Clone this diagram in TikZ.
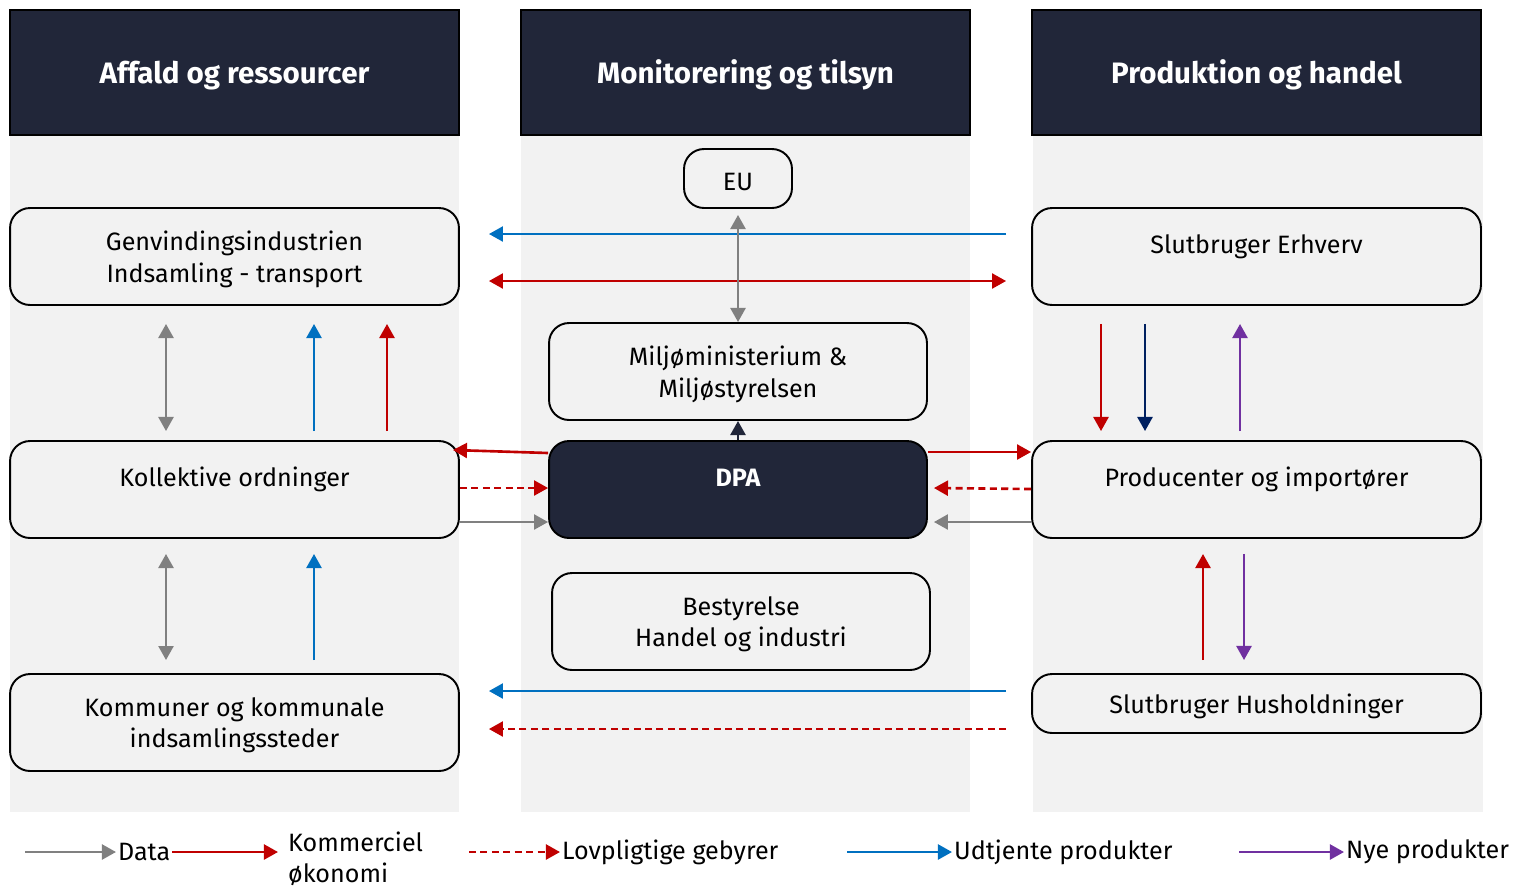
\documentclass[tikz,border=0pt]{standalone}
\usepackage{fontspec}
\setmainfont{Fira Sans}
\usetikzlibrary{arrows.meta, positioning, calc}

\definecolor{hdrblue}{HTML}{212639}
\definecolor{colbg}{HTML}{F2F2F2}
\definecolor{ecored}{HTML}{C00000}
\definecolor{wasteblue}{HTML}{0070C0}
\definecolor{datagrey}{HTML}{808080}
\definecolor{navyblue}{HTML}{002060}
\definecolor{newpurple}{HTML}{7030A0}

\begin{document}
\begin{tikzpicture}[x=0.02cm, y=-0.02cm,
	font=\fontsize{14.3}{18}\selectfont,
	header/.style={draw=black, line width=0.8pt, fill=hdrblue, text=white,
		font=\fontsize{16.8}{18}\selectfont\bfseries, text height=17pt, text depth=4pt,
		minimum width=8.98cm, minimum height=2.5cm},
	actor/.style={draw=black, line width=1.1pt, fill=colbg, rounded corners=0.4cm,
		align=center, minimum width=8.98cm, minimum height=1.94cm},
	oneline/.style={actor, text height=14pt},
	twoline/.style={actor, text depth=0pt},
	raised/.style={oneline, text depth=0.6cm},
	flow/.style={line width=1.5pt, -{Triangle[length=8pt,width=8.5pt]}},
	both/.style={line width=1.5pt, {Triangle[length=8pt,width=8.5pt]}-{Triangle[length=8pt,width=8.5pt]}},
	fee/.style={flow, dash pattern=on 4pt off 2.5pt},
	legtext/.style={anchor=west, inner sep=1pt, align=left}]
	\useasboundingbox (0,0) rectangle (1517,890);

	% column backgrounds and headers
	\fill[colbg] (10,135) rectangle (459,812);
	\fill[colbg] (521,135) rectangle (970,812);
	\fill[colbg] (1033,135) rectangle (1483,812);
	\node[header] (affald) at (234.5,72.5) {Affald og ressourcer};
	\node[header] (monitor) at (745.5,72.5) {Monitorering og tilsyn};
	\node[header] (produktion) at (1256.5,72.5) {Produktion og handel};

	% left column
	\node[twoline] (genvind) at (234.5,256.5) {Genvindingsindustrien\\Indsamling - transport};
	\node[raised] (koll) at (234.5,489.5) {Kollektive ordninger};
	\node[twoline] (kommuner) at (234.5,722.5) {Kommuner og kommunale\\indsamlingssteder};

	% middle column
	\node[oneline, minimum width=2.16cm, minimum height=1.18cm] (eu) at (738,178.5) {EU};
	\node[twoline, minimum width=7.56cm] (mst) at (738,371.5) {Milj\o ministerium \&\\Milj\o styrelsen};
	\node[raised, fill=hdrblue, text=white, font=\fontsize{14.3}{18}\selectfont\bfseries,
		minimum width=7.56cm] (dpa) at (738,489.5) {DPA};
	\node[twoline, minimum width=7.56cm] (bestyr) at (741,621.5) {Bestyrelse\\Handel og industri};

	% right column
	\node[raised] (erhverv) at (1256.5,256.5) {Slutbruger Erhverv};
	\node[raised] (producent) at (1256.5,489.5) {Producenter og import\o rer};
	\node[oneline, minimum height=1.18cm] (hushold) at (1256.5,703.5) {Slutbruger Husholdninger};

	% across the columns
	\draw[flow, wasteblue] ($(erhverv.west)+(-25,-22.5)$) -- ($(genvind.east)+(29,-22.5)$);
	\draw[both, ecored] ($(genvind.east)+(29,24.5)$) -- ($(erhverv.west)+(-25,24.5)$);
	\draw[both, datagrey] ($(eu.south)+(0,6)$) -- (mst.north);
	\draw[flow, wasteblue] ($(hushold.west)+(-25,-12.5)$) -- ($(kommuner.east)+(29,-31.5)$);
	\draw[fee, ecored] ($(hushold.west)+(-25,25.5)$) -- ($(kommuner.east)+(29,6.5)$);

	% left column links
	\draw[both, datagrey] ($(genvind.south)+(-68.5,18)$) -- ($(koll.north)+(-68.5,-9)$);
	\draw[flow, wasteblue] ($(koll.north)+(79.5,-9)$) -- ($(genvind.south)+(79.5,18)$);
	\draw[flow, ecored] ($(koll.north)+(152.5,-9)$) -- ($(genvind.south)+(152.5,18)$);
	\draw[both, datagrey] ($(koll.south)+(-68.5,15)$) -- ($(kommuner.north)+(-68.5,-13)$);
	\draw[flow, wasteblue] ($(kommuner.north)+(79.5,-13)$) -- ($(koll.south)+(79.5,15)$);

	% DPA links
	\draw[flow, hdrblue] (dpa.north) -- (mst.south);
	\draw[flow, ecored] ($(dpa.west)+(0,-36.5)$) -- ($(koll.east)+(-7,-39.5)$);
	\draw[fee, ecored] ($(koll.east)+(0,-1.5)$) -- ($(dpa.west)+(0,-1.5)$);
	\draw[flow, datagrey] ($(koll.east)+(0,32.5)$) -- ($(dpa.west)+(0,32.5)$);
	\draw[flow, ecored] ($(dpa.east)+(0,-37.5)$) -- ($(producent.west)+(0,-37.5)$);
	\draw[fee, ecored] ($(producent.west)+(0,-0.5)$) -- ($(dpa.east)+(6,-1.5)$);
	\draw[flow, datagrey] ($(producent.west)+(0,32.5)$) -- ($(dpa.east)+(6,32.5)$);

	% right column links
	\draw[flow, ecored] ($(erhverv.south)+(-155.5,18)$) -- ($(producent.north)+(-155.5,-9)$);
	\draw[flow, navyblue] ($(erhverv.south)+(-111.5,18)$) -- ($(producent.north)+(-111.5,-9)$);
	\draw[flow, newpurple] ($(producent.north)+(-16.5,-9)$) -- ($(erhverv.south)+(-16.5,18)$);
	\draw[flow, ecored] ($(hushold.north)+(-53.5,-13)$) -- ($(producent.south)+(-53.5,15)$);
	\draw[flow, newpurple] ($(producent.south)+(-12.5,15)$) -- ($(hushold.north)+(-12.5,-13)$);

	% legend
	\coordinate (ldata0) at (25,852);
	\node[legtext] (ldata) at (116,852) {Data};
	\node[legtext] (lkom) at (286,859) {Kommerciel\\\o konomi};
	\coordinate (lfee0) at (469,852);
	\node[legtext] (lfee) at (560,852) {Lovpligtige gebyrer};
	\coordinate (lused0) at (847,852);
	\node[legtext] (lused) at (952,852) {Udtjente produkter};
	\coordinate (lnew0) at (1239,852);
	\node[legtext] (lnew) at (1344,852) {Nye produkter};
	\draw[flow, datagrey] (ldata0) -- (ldata.west);
	\draw[flow, ecored] (ldata.east) -- ($(lkom.west |- ldata.east)+(-8,0)$);
	\draw[fee, ecored] (lfee0) -- (lfee.west);
	\draw[flow, wasteblue] (lused0) -- (lused.west);
	\draw[flow, newpurple] (lnew0) -- (lnew.west);
\end{tikzpicture}
\end{document}
